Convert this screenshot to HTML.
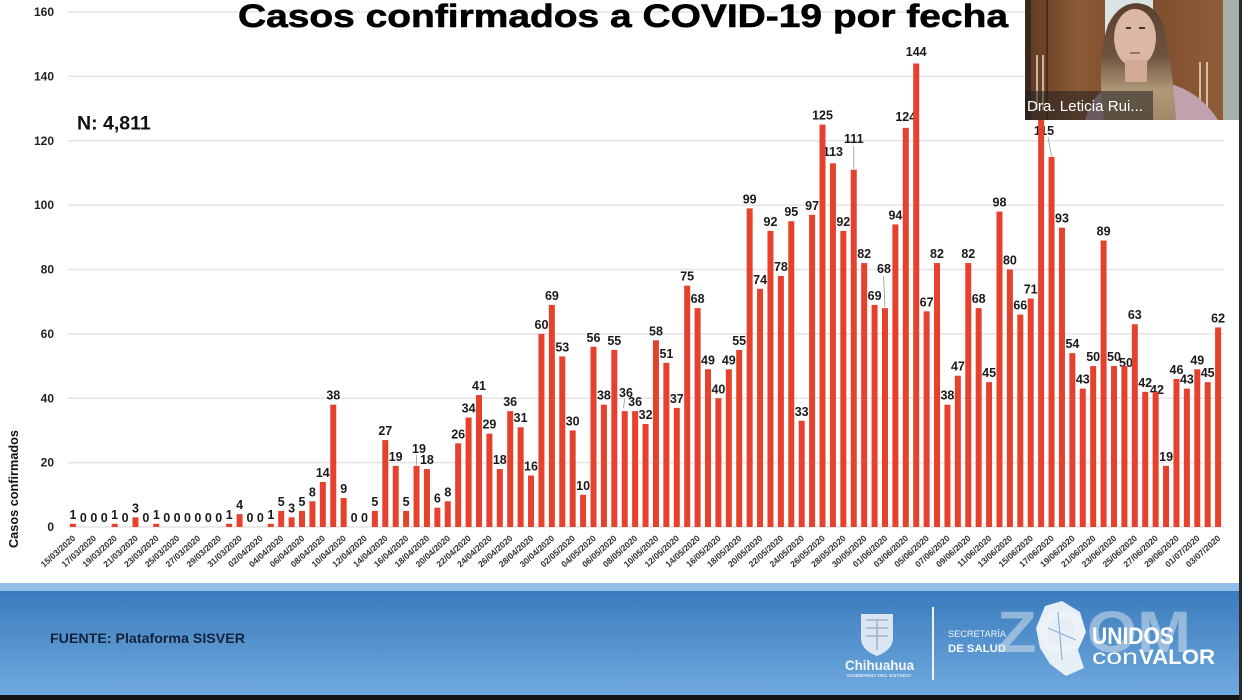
<!DOCTYPE html>
<html><head><meta charset="utf-8"><style>
html,body{margin:0;padding:0;background:#fff;width:1242px;height:700px;overflow:hidden}
svg{display:block}
.v{font-family:"Liberation Sans",Arial,sans-serif;font-weight:bold;font-size:12.5px;fill:#1a1a1a;text-anchor:middle}
.yt{font-family:"Liberation Sans",Arial,sans-serif;font-weight:bold;font-size:12px;fill:#222;text-anchor:end}
.xl{font-family:"Liberation Sans",Arial,sans-serif;font-weight:bold;font-size:8.6px;fill:#333;text-anchor:end}
</style></head><body>
<svg width="1242" height="700" viewBox="0 0 1242 700" xmlns="http://www.w3.org/2000/svg">
<defs>
<linearGradient id="band" x1="0" y1="0" x2="0" y2="1">
<stop offset="0" stop-color="#3a7bbd"/><stop offset="1" stop-color="#70aade"/>
</linearGradient>
<linearGradient id="wood" x1="0" y1="0" x2="1" y2="0">
<stop offset="0" stop-color="#5e3a22"/><stop offset="0.25" stop-color="#8c5a35"/><stop offset="0.5" stop-color="#7a4a2b"/><stop offset="1" stop-color="#94603a"/>
</linearGradient>
<linearGradient id="hair" x1="0" y1="0" x2="0" y2="1">
<stop offset="0" stop-color="#5a4030"/><stop offset="0.45" stop-color="#6e5440"/><stop offset="0.75" stop-color="#b09878"/><stop offset="1" stop-color="#a08868"/>
</linearGradient>
</defs>
<rect x="0" y="0" width="1242" height="700" fill="#fff"/>
<g stroke="#e4e4e4" stroke-width="1.5">
<line x1="68" y1="12" x2="1224" y2="12"/>
<line x1="68" y1="76.4" x2="1224" y2="76.4"/>
<line x1="68" y1="140.8" x2="1224" y2="140.8"/>
<line x1="68" y1="205.1" x2="1224" y2="205.1"/>
<line x1="68" y1="269.5" x2="1224" y2="269.5"/>
<line x1="68" y1="333.9" x2="1224" y2="333.9"/>
<line x1="68" y1="398.3" x2="1224" y2="398.3"/>
<line x1="68" y1="462.6" x2="1224" y2="462.6"/>
<line x1="68" y1="527" x2="1224" y2="527"/>
</g>
<g>
<text x="54" y="16" class="yt">160</text>
<text x="54" y="80.4" class="yt">140</text>
<text x="54" y="144.8" class="yt">120</text>
<text x="54" y="209.1" class="yt">100</text>
<text x="54" y="273.5" class="yt">80</text>
<text x="54" y="337.9" class="yt">60</text>
<text x="54" y="402.3" class="yt">40</text>
<text x="54" y="466.6" class="yt">20</text>
<text x="54" y="531" class="yt">0</text>
</g>
<text x="238" y="27" font-family="'Liberation Sans',Arial,sans-serif" font-weight="bold" font-size="32" fill="#000" stroke="#000" stroke-width="0.6" textLength="770" lengthAdjust="spacingAndGlyphs">Casos confirmados a COVID-19 por fecha</text>
<text x="77" y="129.5" font-family="'Liberation Sans',Arial,sans-serif" font-weight="bold" font-size="19.5" fill="#111">N: 4,811</text>
<text transform="translate(18,489) rotate(-90)" text-anchor="middle" font-family="'Liberation Sans',Arial,sans-serif" font-weight="bold" font-size="13" fill="#111" textLength="118" lengthAdjust="spacingAndGlyphs">Casos confirmados</text>

<g stroke="#9a9a9a" stroke-width="0.8">
<line x1="416.5" y1="455" x2="416.5" y2="465"/>
<line x1="624.7" y1="399" x2="623.5" y2="408"/>
<line x1="853.8" y1="146" x2="853.8" y2="169"/>
<line x1="883.5" y1="276" x2="885" y2="307"/>
<line x1="1048" y1="137" x2="1051.5" y2="156"/>
</g>

<g>
<text class="v" x="73" y="518.8">1</text>
<text class="v" x="83.4" y="522">0</text>
<text class="v" x="93.8" y="522">0</text>
<text class="v" x="104.2" y="522">0</text>
<text class="v" x="114.6" y="518.8">1</text>
<text class="v" x="125.1" y="522">0</text>
<text class="v" x="135.5" y="512.3">3</text>
<text class="v" x="145.9" y="522">0</text>
<text class="v" x="156.3" y="518.8">1</text>
<text class="v" x="166.7" y="522">0</text>
<text class="v" x="177.1" y="522">0</text>
<text class="v" x="187.5" y="522">0</text>
<text class="v" x="197.9" y="522">0</text>
<text class="v" x="208.3" y="522">0</text>
<text class="v" x="218.7" y="522">0</text>
<text class="v" x="229.2" y="518.8">1</text>
<text class="v" x="239.6" y="509.1">4</text>
<text class="v" x="250.0" y="522">0</text>
<text class="v" x="260.4" y="522">0</text>
<text class="v" x="270.8" y="518.8">1</text>
<text class="v" x="281.2" y="505.9">5</text>
<text class="v" x="291.6" y="512.3">3</text>
<text class="v" x="302.0" y="505.9">5</text>
<text class="v" x="312.4" y="496.3">8</text>
<text class="v" x="322.8" y="476.9">14</text>
<text class="v" x="333.3" y="399.7">38</text>
<text class="v" x="343.7" y="493.0">9</text>
<text class="v" x="354.1" y="522">0</text>
<text class="v" x="364.5" y="522">0</text>
<text class="v" x="374.9" y="505.9">5</text>
<text class="v" x="385.3" y="435.1">27</text>
<text class="v" x="395.7" y="460.8">19</text>
<text class="v" x="406.1" y="505.9">5</text>
<text class="v" x="419" y="453">19</text>
<text class="v" x="426.9" y="464.1">18</text>
<text class="v" x="437.4" y="502.7">6</text>
<text class="v" x="447.8" y="496.3">8</text>
<text class="v" x="458.2" y="438.3">26</text>
<text class="v" x="468.6" y="412.6">34</text>
<text class="v" x="479.0" y="390.0">41</text>
<text class="v" x="489.4" y="428.7">29</text>
<text class="v" x="499.8" y="464.1">18</text>
<text class="v" x="510.2" y="406.1">36</text>
<text class="v" x="520.6" y="422.2">31</text>
<text class="v" x="531.0" y="470.5">16</text>
<text class="v" x="541.5" y="328.9">60</text>
<text class="v" x="551.9" y="299.9">69</text>
<text class="v" x="562.3" y="351.4">53</text>
<text class="v" x="572.7" y="425.4">30</text>
<text class="v" x="583.1" y="489.8">10</text>
<text class="v" x="593.5" y="341.8">56</text>
<text class="v" x="603.9" y="399.7">38</text>
<text class="v" x="614.3" y="345.0">55</text>
<text class="v" x="626" y="397">36</text>
<text class="v" x="635.1" y="406.1">36</text>
<text class="v" x="645.6" y="419.0">32</text>
<text class="v" x="656.0" y="335.3">58</text>
<text class="v" x="666.4" y="357.8">51</text>
<text class="v" x="676.8" y="402.9">37</text>
<text class="v" x="687.2" y="280.6">75</text>
<text class="v" x="697.6" y="303.1">68</text>
<text class="v" x="708.0" y="364.3">49</text>
<text class="v" x="718.4" y="393.3">40</text>
<text class="v" x="728.8" y="364.3">49</text>
<text class="v" x="739.2" y="345.0">55</text>
<text class="v" x="749.7" y="203.3">99</text>
<text class="v" x="760.1" y="283.8">74</text>
<text class="v" x="770.5" y="225.9">92</text>
<text class="v" x="780.9" y="270.9">78</text>
<text class="v" x="791.3" y="216.2">95</text>
<text class="v" x="801.7" y="415.8">33</text>
<text class="v" x="812.1" y="209.8">97</text>
<text class="v" x="822.5" y="119.7">125</text>
<text class="v" x="832.9" y="156">113</text>
<text class="v" x="843.3" y="225.9">92</text>
<text class="v" x="853.8" y="143">111</text>
<text class="v" x="864.2" y="258.1">82</text>
<text class="v" x="874.6" y="299.9">69</text>
<text class="v" x="884" y="273">68</text>
<text class="v" x="895.4" y="219.4">94</text>
<text class="v" x="905.8" y="121">124</text>
<text class="v" x="916.2" y="56">144</text>
<text class="v" x="926.6" y="306.3">67</text>
<text class="v" x="937.0" y="258.1">82</text>
<text class="v" x="947.4" y="399.7">38</text>
<text class="v" x="957.9" y="370.7">47</text>
<text class="v" x="968.3" y="258.1">82</text>
<text class="v" x="978.7" y="303.1">68</text>
<text class="v" x="989.1" y="377.2">45</text>
<text class="v" x="999.5" y="206.6">98</text>
<text class="v" x="1009.9" y="264.5">80</text>
<text class="v" x="1020.3" y="309.6">66</text>
<text class="v" x="1030.7" y="293.5">71</text>
<text class="v" x="1041.1" y="94">133</text>
<text class="v" x="1044" y="135">115</text>
<text class="v" x="1062.0" y="222.7">93</text>
<text class="v" x="1072.4" y="348.2">54</text>
<text class="v" x="1082.8" y="383.6">43</text>
<text class="v" x="1093.2" y="361.1">50</text>
<text class="v" x="1103.6" y="235.5">89</text>
<text class="v" x="1114.0" y="361.1">50</text>
<text class="v" x="1126" y="367">50</text>
<text class="v" x="1134.8" y="319.2">63</text>
<text class="v" x="1145.2" y="386.8">42</text>
<text class="v" x="1157" y="394">42</text>
<text class="v" x="1166.1" y="460.8">19</text>
<text class="v" x="1176.5" y="373.9">46</text>
<text class="v" x="1186.9" y="383.6">43</text>
<text class="v" x="1197.3" y="364.3">49</text>
<text class="v" x="1207.7" y="377.2">45</text>
<text class="v" x="1218.1" y="322.4">62</text>
</g>

<g transform="translate(0,527) scale(1,-3.21875)" fill="#e5412d">
<rect x="70" y="0" width="6" height="1"/>
<rect x="111.64" y="0" width="6" height="1"/>
<rect x="132.46" y="0" width="6" height="3"/>
<rect x="153.28" y="0" width="6" height="1"/>
<rect x="226.15" y="0" width="6" height="1"/>
<rect x="236.56" y="0" width="6" height="4"/>
<rect x="267.79" y="0" width="6" height="1"/>
<rect x="278.2" y="0" width="6" height="5"/>
<rect x="288.61" y="0" width="6" height="3"/>
<rect x="299.02" y="0" width="6" height="5"/>
<rect x="309.43" y="0" width="6" height="8"/>
<rect x="319.84" y="0" width="6" height="14"/>
<rect x="330.25" y="0" width="6" height="38"/>
<rect x="340.66" y="0" width="6" height="9"/>
<rect x="371.89" y="0" width="6" height="5"/>
<rect x="382.3" y="0" width="6" height="27"/>
<rect x="392.71" y="0" width="6" height="19"/>
<rect x="403.12" y="0" width="6" height="5"/>
<rect x="413.53" y="0" width="6" height="19"/>
<rect x="423.94" y="0" width="6" height="18"/>
<rect x="434.35" y="0" width="6" height="6"/>
<rect x="444.76" y="0" width="6" height="8"/>
<rect x="455.17" y="0" width="6" height="26"/>
<rect x="465.58" y="0" width="6" height="34"/>
<rect x="475.99" y="0" width="6" height="41"/>
<rect x="486.4" y="0" width="6" height="29"/>
<rect x="496.81" y="0" width="6" height="18"/>
<rect x="507.22" y="0" width="6" height="36"/>
<rect x="517.63" y="0" width="6" height="31"/>
<rect x="528.04" y="0" width="6" height="16"/>
<rect x="538.45" y="0" width="6" height="60"/>
<rect x="548.86" y="0" width="6" height="69"/>
<rect x="559.27" y="0" width="6" height="53"/>
<rect x="569.68" y="0" width="6" height="30"/>
<rect x="580.09" y="0" width="6" height="10"/>
<rect x="590.5" y="0" width="6" height="56"/>
<rect x="600.91" y="0" width="6" height="38"/>
<rect x="611.32" y="0" width="6" height="55"/>
<rect x="621.73" y="0" width="6" height="36"/>
<rect x="632.14" y="0" width="6" height="36"/>
<rect x="642.55" y="0" width="6" height="32"/>
<rect x="652.96" y="0" width="6" height="58"/>
<rect x="663.37" y="0" width="6" height="51"/>
<rect x="673.78" y="0" width="6" height="37"/>
<rect x="684.19" y="0" width="6" height="75"/>
<rect x="694.6" y="0" width="6" height="68"/>
<rect x="705.01" y="0" width="6" height="49"/>
<rect x="715.42" y="0" width="6" height="40"/>
<rect x="725.83" y="0" width="6" height="49"/>
<rect x="736.24" y="0" width="6" height="55"/>
<rect x="746.65" y="0" width="6" height="99"/>
<rect x="757.06" y="0" width="6" height="74"/>
<rect x="767.47" y="0" width="6" height="92"/>
<rect x="777.88" y="0" width="6" height="78"/>
<rect x="788.29" y="0" width="6" height="95"/>
<rect x="798.7" y="0" width="6" height="33"/>
<rect x="809.11" y="0" width="6" height="97"/>
<rect x="819.52" y="0" width="6" height="125"/>
<rect x="829.93" y="0" width="6" height="113"/>
<rect x="840.34" y="0" width="6" height="92"/>
<rect x="850.75" y="0" width="6" height="111"/>
<rect x="861.16" y="0" width="6" height="82"/>
<rect x="871.57" y="0" width="6" height="69"/>
<rect x="881.98" y="0" width="6" height="68"/>
<rect x="892.39" y="0" width="6" height="94"/>
<rect x="902.8" y="0" width="6" height="124"/>
<rect x="913.21" y="0" width="6" height="144"/>
<rect x="923.62" y="0" width="6" height="67"/>
<rect x="934.03" y="0" width="6" height="82"/>
<rect x="944.44" y="0" width="6" height="38"/>
<rect x="954.85" y="0" width="6" height="47"/>
<rect x="965.26" y="0" width="6" height="82"/>
<rect x="975.67" y="0" width="6" height="68"/>
<rect x="986.08" y="0" width="6" height="45"/>
<rect x="996.49" y="0" width="6" height="98"/>
<rect x="1006.9" y="0" width="6" height="80"/>
<rect x="1017.31" y="0" width="6" height="66"/>
<rect x="1027.72" y="0" width="6" height="71"/>
<rect x="1038.13" y="0" width="6" height="133"/>
<rect x="1048.54" y="0" width="6" height="115"/>
<rect x="1058.95" y="0" width="6" height="93"/>
<rect x="1069.36" y="0" width="6" height="54"/>
<rect x="1079.77" y="0" width="6" height="43"/>
<rect x="1090.18" y="0" width="6" height="50"/>
<rect x="1100.59" y="0" width="6" height="89"/>
<rect x="1111.0" y="0" width="6" height="50"/>
<rect x="1121.41" y="0" width="6" height="50"/>
<rect x="1131.82" y="0" width="6" height="63"/>
<rect x="1142.23" y="0" width="6" height="42"/>
<rect x="1152.64" y="0" width="6" height="42"/>
<rect x="1163.05" y="0" width="6" height="19"/>
<rect x="1173.46" y="0" width="6" height="46"/>
<rect x="1183.87" y="0" width="6" height="43"/>
<rect x="1194.28" y="0" width="6" height="49"/>
<rect x="1204.69" y="0" width="6" height="45"/>
<rect x="1215.1" y="0" width="6" height="62"/>
</g>

<g>
<text class="xl" transform="translate(76,539) rotate(-42)">15/03/2020</text>
<text class="xl" transform="translate(96.8,539) rotate(-42)">17/03/2020</text>
<text class="xl" transform="translate(117.6,539) rotate(-42)">19/03/2020</text>
<text class="xl" transform="translate(138.5,539) rotate(-42)">21/03/2020</text>
<text class="xl" transform="translate(159.3,539) rotate(-42)">23/03/2020</text>
<text class="xl" transform="translate(180.1,539) rotate(-42)">25/03/2020</text>
<text class="xl" transform="translate(200.9,539) rotate(-42)">27/03/2020</text>
<text class="xl" transform="translate(221.7,539) rotate(-42)">29/03/2020</text>
<text class="xl" transform="translate(242.6,539) rotate(-42)">31/03/2020</text>
<text class="xl" transform="translate(263.4,539) rotate(-42)">02/04/2020</text>
<text class="xl" transform="translate(284.2,539) rotate(-42)">04/04/2020</text>
<text class="xl" transform="translate(305.0,539) rotate(-42)">06/04/2020</text>
<text class="xl" transform="translate(325.8,539) rotate(-42)">08/04/2020</text>
<text class="xl" transform="translate(346.7,539) rotate(-42)">10/04/2020</text>
<text class="xl" transform="translate(367.5,539) rotate(-42)">12/04/2020</text>
<text class="xl" transform="translate(388.3,539) rotate(-42)">14/04/2020</text>
<text class="xl" transform="translate(409.1,539) rotate(-42)">16/04/2020</text>
<text class="xl" transform="translate(429.9,539) rotate(-42)">18/04/2020</text>
<text class="xl" transform="translate(450.8,539) rotate(-42)">20/04/2020</text>
<text class="xl" transform="translate(471.6,539) rotate(-42)">22/04/2020</text>
<text class="xl" transform="translate(492.4,539) rotate(-42)">24/04/2020</text>
<text class="xl" transform="translate(513.2,539) rotate(-42)">26/04/2020</text>
<text class="xl" transform="translate(534.0,539) rotate(-42)">28/04/2020</text>
<text class="xl" transform="translate(554.9,539) rotate(-42)">30/04/2020</text>
<text class="xl" transform="translate(575.7,539) rotate(-42)">02/05/2020</text>
<text class="xl" transform="translate(596.5,539) rotate(-42)">04/05/2020</text>
<text class="xl" transform="translate(617.3,539) rotate(-42)">06/05/2020</text>
<text class="xl" transform="translate(638.1,539) rotate(-42)">08/05/2020</text>
<text class="xl" transform="translate(659.0,539) rotate(-42)">10/05/2020</text>
<text class="xl" transform="translate(679.8,539) rotate(-42)">12/05/2020</text>
<text class="xl" transform="translate(700.6,539) rotate(-42)">14/05/2020</text>
<text class="xl" transform="translate(721.4,539) rotate(-42)">16/05/2020</text>
<text class="xl" transform="translate(742.2,539) rotate(-42)">18/05/2020</text>
<text class="xl" transform="translate(763.1,539) rotate(-42)">20/05/2020</text>
<text class="xl" transform="translate(783.9,539) rotate(-42)">22/05/2020</text>
<text class="xl" transform="translate(804.7,539) rotate(-42)">24/05/2020</text>
<text class="xl" transform="translate(825.5,539) rotate(-42)">26/05/2020</text>
<text class="xl" transform="translate(846.3,539) rotate(-42)">28/05/2020</text>
<text class="xl" transform="translate(867.2,539) rotate(-42)">30/05/2020</text>
<text class="xl" transform="translate(888.0,539) rotate(-42)">01/06/2020</text>
<text class="xl" transform="translate(908.8,539) rotate(-42)">03/06/2020</text>
<text class="xl" transform="translate(929.6,539) rotate(-42)">05/06/2020</text>
<text class="xl" transform="translate(950.4,539) rotate(-42)">07/06/2020</text>
<text class="xl" transform="translate(971.3,539) rotate(-42)">09/06/2020</text>
<text class="xl" transform="translate(992.1,539) rotate(-42)">11/06/2020</text>
<text class="xl" transform="translate(1012.9,539) rotate(-42)">13/06/2020</text>
<text class="xl" transform="translate(1033.7,539) rotate(-42)">15/06/2020</text>
<text class="xl" transform="translate(1054.5,539) rotate(-42)">17/06/2020</text>
<text class="xl" transform="translate(1075.4,539) rotate(-42)">19/06/2020</text>
<text class="xl" transform="translate(1096.2,539) rotate(-42)">21/06/2020</text>
<text class="xl" transform="translate(1117.0,539) rotate(-42)">23/06/2020</text>
<text class="xl" transform="translate(1137.8,539) rotate(-42)">25/06/2020</text>
<text class="xl" transform="translate(1158.6,539) rotate(-42)">27/06/2020</text>
<text class="xl" transform="translate(1179.5,539) rotate(-42)">29/06/2020</text>
<text class="xl" transform="translate(1200.3,539) rotate(-42)">01/07/2020</text>
<text class="xl" transform="translate(1221.1,539) rotate(-42)">03/07/2020</text>
</g>

<rect x="0" y="583" width="1242" height="9" fill="#93bde9"/>
<rect x="0" y="591" width="1242" height="104" fill="url(#band)"/>
<rect x="0" y="695" width="1242" height="5" fill="#161616"/>
<text x="50" y="643" font-family="'Liberation Sans',Arial,sans-serif" font-weight="bold" font-size="14" fill="#14223d" textLength="195" lengthAdjust="spacingAndGlyphs">FUENTE: Plataforma SISVER</text>

<path d="M861 614 L893 614 L893 638 Q893 650 877 656 Q861 650 861 638 Z" fill="#dbe5f1"/>
<path d="M866 620 L888 620 M866 628 L888 628 M866 636 L888 636 M877 620 L877 650" stroke="#9fb4cc" stroke-width="1.5"/>
<text x="845" y="670" font-family="'Liberation Sans',Arial,sans-serif" font-weight="bold" font-size="13.5" fill="#f2f6fb" textLength="69" lengthAdjust="spacingAndGlyphs">Chihuahua</text>
<text x="847" y="677" font-family="'Liberation Sans',Arial,sans-serif" font-weight="bold" font-size="4.5" fill="#e0e8f2" textLength="64" lengthAdjust="spacingAndGlyphs">GOBIERNO DEL ESTADO</text>
<rect x="932" y="607" width="2" height="73" fill="#eef3f9"/>
<text x="948" y="637" font-family="'Liberation Sans',Arial,sans-serif" font-size="9" fill="#eef3f9" textLength="58" lengthAdjust="spacingAndGlyphs">SECRETARÍA</text>
<text x="948" y="652" font-family="'Liberation Sans',Arial,sans-serif" font-weight="bold" font-size="11" fill="#f5f8fc" textLength="58" lengthAdjust="spacingAndGlyphs">DE SALUD</text>
<text x="997" y="652" font-family="'Liberation Sans',Arial,sans-serif" font-weight="bold" font-size="58" fill="#dfe7f0" fill-opacity="0.5" textLength="194" lengthAdjust="spacingAndGlyphs">ZOOM</text>
<path d="M1045 606 L1062 601 L1080 612 L1086 632 L1078 650 L1084 668 L1066 676 L1050 664 L1040 648 L1036 628 Z" fill="#f3f6fa" fill-opacity="0.92"/>
<path d="M1048 628 L1076 640 M1058 612 L1062 660" stroke="#8fb2d8" stroke-width="1.2"/>
<text x="1092" y="644" font-family="'Liberation Sans',Arial,sans-serif" font-weight="bold" font-size="24" fill="#ffffff" textLength="82" lengthAdjust="spacingAndGlyphs">UNIDOS</text>
<text x="1092" y="664" font-family="'Liberation Sans',Arial,sans-serif" font-size="21" fill="#ffffff" textLength="46" lengthAdjust="spacingAndGlyphs">con</text>
<text x="1139" y="664" font-family="'Liberation Sans',Arial,sans-serif" font-weight="bold" font-size="21" fill="#ffffff" textLength="76" lengthAdjust="spacingAndGlyphs">VALOR</text>

<!-- video overlay -->
<rect x="1025" y="0" width="215" height="120" fill="url(#wood)"/>
<rect x="1025" y="0" width="6" height="120" fill="#3a2a1e"/>
<rect x="1046" y="0" width="2" height="120" fill="#4a2e1a"/>
<rect x="1105" y="0" width="48" height="85" fill="#d9e4e2"/>
<rect x="1223" y="0" width="17" height="120" fill="#a9b2a8"/>
<rect x="1036" y="55" width="2" height="55" fill="#c8b8a0"/>
<rect x="1042" y="55" width="2" height="55" fill="#c8b8a0"/>
<rect x="1199" y="62" width="2" height="55" fill="#d0c0a8"/>
<rect x="1206" y="62" width="2" height="55" fill="#d0c0a8"/>
<path d="M1085 120 Q1095 86 1125 80 L1150 80 Q1195 84 1218 120 Z" fill="#c0a2ae"/>
<path d="M1104 120 Q1096 60 1108 25 Q1118 4 1136 3 Q1156 4 1163 25 Q1172 60 1176 120 Z" fill="url(#hair)"/>
<ellipse cx="1135" cy="38" rx="21" ry="29" fill="#dbb8a6"/>
<rect x="1125" y="60" width="22" height="22" fill="#d2aa96"/>
<path d="M1126 28 L1131 28 M1139 28 L1145 28" stroke="#4a3428" stroke-width="2"/>
<path d="M1130 53 L1140 53" stroke="#a86e66" stroke-width="2"/>
<rect x="1025" y="91" width="128" height="29" fill="#202020" fill-opacity="0.55"/>
<text x="1027" y="111" font-family="'Liberation Sans',Arial,sans-serif" font-size="14.5" fill="#ffffff" textLength="116" lengthAdjust="spacingAndGlyphs">Dra. Leticia Rui...</text>
<rect x="1239" y="0" width="3" height="700" fill="#2a2a2a"/>
</svg>
</body></html>
